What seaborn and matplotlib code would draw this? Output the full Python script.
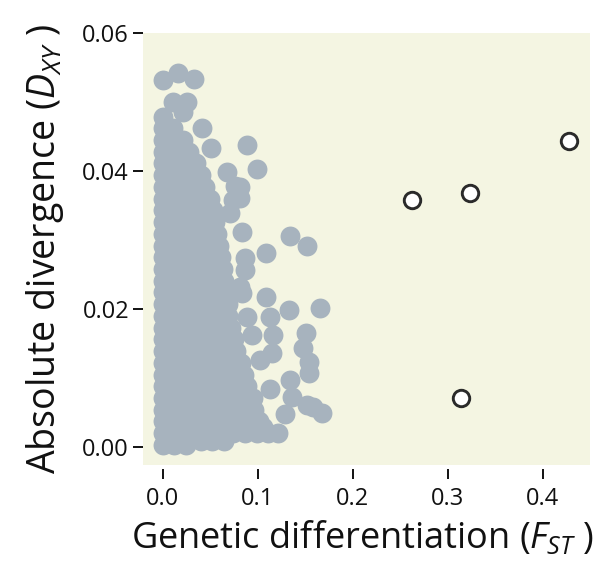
import matplotlib
matplotlib.use("Agg")
import matplotlib.pyplot as plt
import seaborn as sns
import pandas as pd

# ---- data -------------------------------------------------------------
# Dense genome-wide windows, stored as rows of Dxy with the Fst values in each row
core_dxy = [0.0478, 0.0462, 0.0445, 0.0428, 0.0411, 0.0394, 0.0377, 0.0360,
            0.0343, 0.0326, 0.0309, 0.0292, 0.0275, 0.0258, 0.0241, 0.0224,
            0.0207, 0.0190, 0.0173, 0.0156, 0.0139, 0.0122, 0.0105, 0.0088,
            0.0071, 0.0054, 0.0037, 0.0020, 0.0009, 0.0003]
core_fst = [
    [0.0],
    [0.0, 0.011],
    [0.0, 0.011, 0.021],
    [0.0, 0.014, 0.027],
    [0.0, 0.012, 0.024, 0.035],
    [0.0, 0.013, 0.026, 0.040],
    [0.0, 0.011, 0.022, 0.033, 0.044],
    [0.0, 0.0125, 0.025, 0.038, 0.050],
    [0.0, 0.013, 0.026, 0.040, 0.053],
    [0.0, 0.014, 0.028, 0.041, 0.055],
    [0.0, 0.0115, 0.023, 0.034, 0.046, 0.057],
    [0.0, 0.012, 0.024, 0.036, 0.048, 0.059],
    [0.0, 0.012, 0.024, 0.037, 0.049, 0.061],
    [0.0, 0.013, 0.025, 0.038, 0.050, 0.063],
    [0.0, 0.013, 0.026, 0.038, 0.051, 0.064],
    [0.0, 0.013, 0.026, 0.040, 0.053, 0.066],
    [0.0, 0.0115, 0.023, 0.034, 0.045, 0.057, 0.068],
    [0.0, 0.0115, 0.023, 0.035, 0.046, 0.058, 0.069],
    [0.0, 0.012, 0.024, 0.036, 0.048, 0.060, 0.072],
    [0.0, 0.0125, 0.025, 0.0375, 0.050, 0.0625, 0.075],
    [0.0, 0.013, 0.026, 0.039, 0.051, 0.064, 0.077],
    [0.0, 0.0117, 0.0234, 0.035, 0.047, 0.059, 0.070, 0.082],
    [0.0, 0.012, 0.024, 0.036, 0.049, 0.061, 0.073, 0.085],
    [0.0, 0.0127, 0.0254, 0.038, 0.051, 0.064, 0.076, 0.089],
    [0.0, 0.012, 0.024, 0.036, 0.047, 0.059, 0.071, 0.083, 0.095],
    [0.0, 0.012, 0.024, 0.036, 0.048, 0.060, 0.072, 0.084, 0.096],
    [0.0, 0.0126, 0.025, 0.038, 0.050, 0.063, 0.076, 0.088, 0.101],
    [0.0, 0.0123, 0.0247, 0.037, 0.049, 0.062, 0.074, 0.086, 0.099, 0.111],
    [0.040, 0.052, 0.064],
    [0.0, 0.012, 0.024],
]

# Scattered windows at the margins of the cloud
edge_fst = [0.0, 0.016, 0.033, 0.011, 0.025, 0.021,
            0.041, 0.051, 0.067, 0.076, 0.074, 0.071, 0.089, 0.099, 0.081,
            0.081, 0.083, 0.134, 0.152, 0.108, 0.086, 0.086, 0.083, 0.081,
            0.108, 0.133, 0.165, 0.113, 0.088, 0.094, 0.116, 0.151, 0.147,
            0.115, 0.154, 0.154, 0.102, 0.134, 0.113, 0.136, 0.152, 0.158,
            0.167, 0.129, 0.121, 0.105, 0.095, 0.088, 0.092]
edge_dxy = [0.0532, 0.0542, 0.0533, 0.0500, 0.0500, 0.0486,
            0.0462, 0.0433, 0.0399, 0.0378, 0.0358, 0.0339, 0.0438, 0.0403, 0.0377,
            0.0361, 0.0312, 0.0306, 0.0291, 0.0281, 0.0274, 0.0256, 0.0223, 0.0232,
            0.0217, 0.0199, 0.0201, 0.0188, 0.0188, 0.0162, 0.0162, 0.0165, 0.0143,
            0.0136, 0.0123, 0.0107, 0.0126, 0.0097, 0.0084, 0.0072, 0.0061, 0.0058,
            0.0049, 0.0048, 0.0020, 0.0029, 0.0042, 0.0051, 0.0049]

# Highlighted outlier windows
outlier_fst = [0.262, 0.323, 0.427, 0.314]
outlier_dxy = [0.0358, 0.0368, 0.0443, 0.0071]

x_ticks = [0.0, 0.1, 0.2, 0.3, 0.4]
y_ticks = [0.00, 0.02, 0.04, 0.06]

# ---- tables -----------------------------------------------------------
rows_f, rows_d = [], []
for d, fs in zip(core_dxy, core_fst):
    for f in fs:
        rows_f.append(f)
        rows_d.append(d)
background = pd.DataFrame({"fst": rows_f + edge_fst, "dxy": rows_d + edge_dxy})
outliers = pd.DataFrame({"fst": outlier_fst, "dxy": outlier_dxy})

# ---- style ------------------------------------------------------------
sns.set_theme(style="ticks")
plt.rcParams["font.family"] = ["Open Sans", "DejaVu Sans"]
plt.rcParams["mathtext.fontset"] = "custom"
plt.rcParams["mathtext.rm"] = "Open Sans"
plt.rcParams["mathtext.it"] = "Open Sans:italic"

point_grey = "#a7b3be"
panel_bg = "#f4f5e2"

fig = plt.figure(figsize=(6.02, 5.79), dpi=100)
ax = fig.add_axes([0.2375, 0.197, 0.7425, 0.746])
ax.set_facecolor(panel_bg)

sns.scatterplot(data=background, x="fst", y="dxy", ax=ax, s=205,
                color=point_grey, linewidth=0, alpha=1, zorder=2)
sns.scatterplot(data=outliers, x="fst", y="dxy", ax=ax, s=140,
                color="white", edgecolor="#2a2a2a", linewidth=2.1, zorder=3)

ax.set_xlim(-0.021, 0.4495)
ax.set_ylim(-0.0026, 0.06)
ax.set_xticks(x_ticks)
ax.set_xticklabels([f"{t:.1f}" for t in x_ticks])
ax.set_yticks(y_ticks)
ax.set_yticklabels([f"{t:.2f}" for t in y_ticks])

for side in ["top", "right", "left", "bottom"]:
    ax.spines[side].set_visible(False)
ax.spines["bottom"].set_position(("outward", 3))

ax.tick_params(axis="both", direction="out", length=7, width=1.4,
               color="#111111", labelsize=17, labelcolor="#111111")
ax.tick_params(axis="x", pad=6)
ax.tick_params(axis="y", pad=3)

ax.set_xlabel(r"Genetic differentiation ($F_{ST}$ )", fontsize=26,
              labelpad=4, color="#111111")
ax.xaxis.set_label_coords(0.49, -0.125)
ax.set_ylabel(r"Absolute divergence ($D_{XY}$ )", fontsize=27,
              labelpad=12, color="#111111")

fig.savefig("out.png", dpi=100)
